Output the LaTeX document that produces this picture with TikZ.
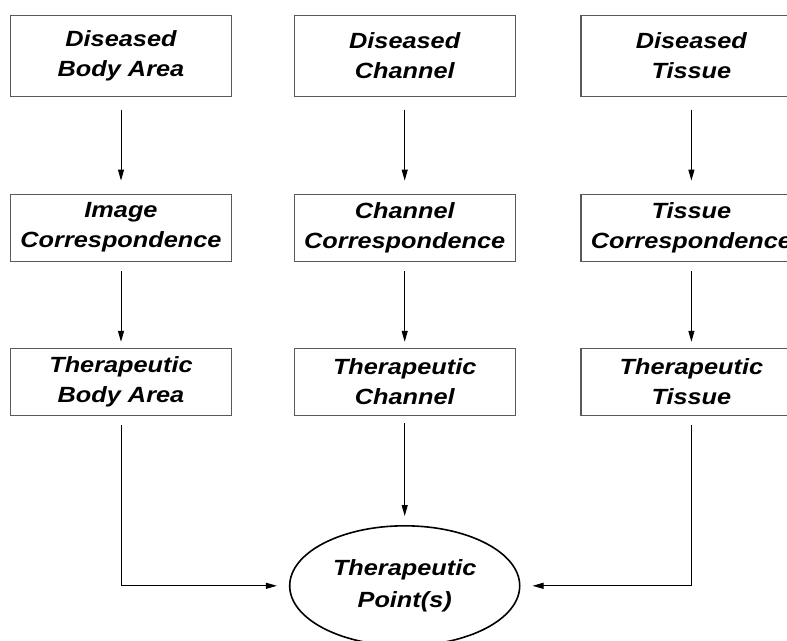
\documentclass[tikz,border=0pt]{standalone}
\usepackage{fontspec}
\newfontfamily\boxfont[FakeStretch=1.15]{Liberation Sans}
\usetikzlibrary{positioning,shapes.geometric,arrows.meta}

\tikzset{
  stage/.style={rectangle, draw=black!65, line width=1.2bp,
    minimum width=221bp, minimum height=67bp, align=center,
    font=\boxfont\bfseries\itshape\fontsize{22bp}{30bp}\selectfont},
  goal/.style={ellipse, draw, line width=1.6bp,
    minimum width=230bp, minimum height=120bp, align=center,
    font=\boxfont\bfseries\itshape\fontsize{22bp}{32bp}\selectfont},
  link/.style={->, line width=1bp}
}

\begin{document}
\begin{tikzpicture}[x=1bp, y=1bp, >={Triangle[length=11bp,width=6bp]}]
  \useasboundingbox (0,0) rectangle (787,-641);

  % diseased row
  \node[stage, minimum height=81bp] (dba) at (121,-56) {Diseased\\Body Area};
  \node[stage, minimum height=81bp, right=61.5bp of dba] (dch) {Diseased\\Channel};
  \node[stage, minimum height=81bp, right=64.5bp of dch] (dti) {Diseased\\Tissue};

  % correspondence row
  \node[stage, below=96.5bp of dba] (ico) {Image\\Correspondence};
  \node[stage, below=96.5bp of dch] (cco) {Channel\\Correspondence};
  \node[stage, below=96.5bp of dti] (tco) {Tissue\\Correspondence};

  % therapeutic row
  \node[stage, below=86bp of ico] (tba) {Therapeutic\\Body Area};
  \node[stage, below=86bp of cco] (tch) {Therapeutic\\Channel};
  \node[stage, below=86bp of tco] (tti) {Therapeutic\\Tissue};

  \node[goal, below=109bp of tch] (tpt) {Therapeutic\\Point(s)};

  \draw[link, shorten <=12.5bp, shorten >=13bp] (dba) -- (ico);
  \draw[link, shorten <=12.5bp, shorten >=13bp] (dch) -- (cco);
  \draw[link, shorten <=12.5bp, shorten >=13bp] (dti) -- (tco);

  \draw[link, shorten <=9bp, shorten >=6bp] (ico) -- (tba);
  \draw[link, shorten <=9bp, shorten >=6bp] (cco) -- (tch);
  \draw[link, shorten <=9bp, shorten >=6bp] (tco) -- (tti);

  \draw[link, shorten <=9bp, shorten >=12bp] (tba) |- (tpt);
  \draw[link, shorten <=7bp, shorten >=9bp] (tch) -- (tpt);
  \draw[link, shorten <=9bp, shorten >=12bp] (tti) |- (tpt);
\end{tikzpicture}
\end{document}
